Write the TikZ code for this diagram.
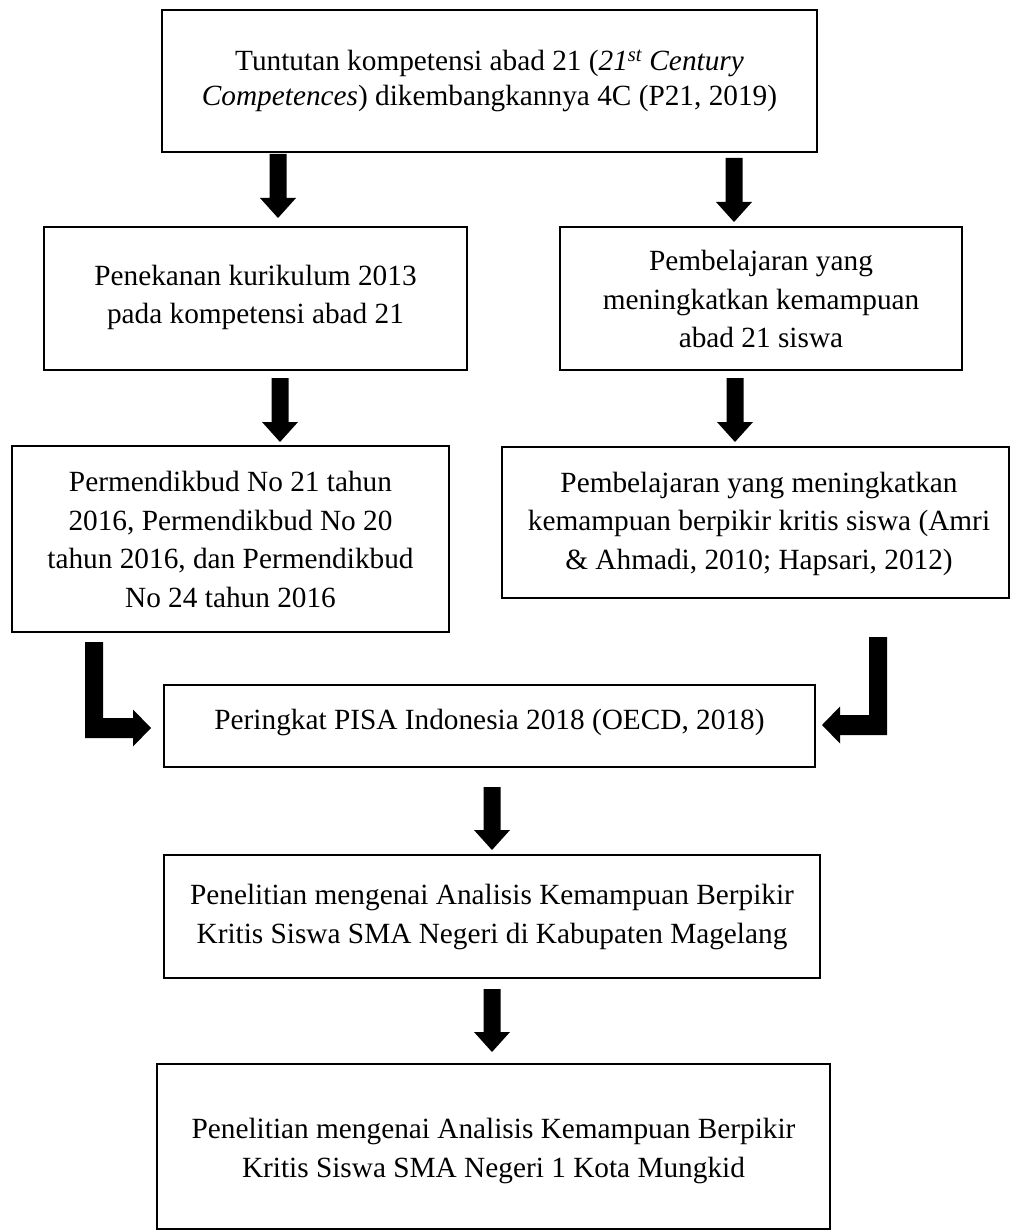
\documentclass[tikz,border=0pt]{standalone}
\usepackage{fontspec}
\setmainfont{Liberation Serif}
\usetikzlibrary{calc}
% block arrow pointing down: #1 = top of shaft, #2 = tip
\newcommand\blkdown[2]{\fill ($(#1)+(-8.5pt,0pt)$) -- ($(#1)+(8.5pt,0pt)$) -- ($(#2)+(8.5pt,20pt)$) -- ($(#2)+(18pt,20pt)$) -- (#2) -- ($(#2)+(-18pt,20pt)$) -- ($(#2)+(-8.5pt,20pt)$) -- cycle;}
\begin{document}
\begin{tikzpicture}[x=1pt,y=-1pt,
  boxst/.style={draw, line width=2pt, rectangle, inner sep=0pt, outer sep=0pt},
  txt/.style={align=center, inner sep=0pt, font=\fontsize{29.3}{38.5}\selectfont}]
\useasboundingbox[fill=white] (0,0) rectangle (1011,1230);

% boxes
\node[boxst, minimum width=655pt, minimum height=142pt] (top) at (489.5,81) {};
\node[boxst, minimum width=423pt, minimum height=143pt] (b2L) at (255.5,298.5) {};
\node[boxst, minimum width=402pt, minimum height=143pt] (b2R) at (761,298.5) {};
\node[boxst, minimum width=437pt, minimum height=186pt] (b3L) at (230.5,539) {};
\node[boxst, minimum width=507pt, minimum height=151pt] (b3R) at (755.5,522.5) {};
\node[boxst, minimum width=651pt, minimum height=82pt] (pisa) at (489.5,726) {};
\node[boxst, minimum width=656pt, minimum height=123pt] (b7) at (492,916.5) {};
\node[boxst, minimum width=673pt, minimum height=165pt] (b8) at (493.5,1146.5) {};

% texts
\node[txt, font=\fontsize{29.3}{35}\selectfont] (ttop) at (489.5,80.5)
  {Tuntutan kompetensi abad 21 (\textit{21\textsuperscript{st} Century}\\\textit{Competences}) dikembangkannya 4C (P21, 2019)};
\node[txt] (t2L) at (255.5,297.5) {Penekanan kurikulum 2013\\pada kompetensi abad 21};
\node[txt] (t2R) at (761,299) {Pembelajaran yang\\meningkatkan kemampuan\\abad 21 siswa};
\node[txt] (t3L) at (230.5,539.5) {Permendikbud No 21 tahun\\2016, Permendikbud No 20\\tahun 2016, dan Permendikbud\\No 24 tahun 2016};
\node[txt] (t3R) at (759,523.5) {Pembelajaran yang meningkatkan\\kemampuan berpikir kritis siswa (Amri\\\& Ahmadi, 2010; Hapsari, 2012)};
\node[txt] (tpisa) at (489.5,722) {Peringkat PISA Indonesia 2018 (OECD, 2018)};
\node[txt] (t7) at (492,917) {Penelitian mengenai Analisis Kemampuan Berpikir\\Kritis Siswa SMA Negeri di Kabupaten Magelang};
\node[txt] (t8) at (493.5,1151) {Penelitian mengenai Analisis Kemampuan Berpikir\\Kritis Siswa SMA Negeri 1 Kota Mungkid};

% arrow end points tied to the boxes
\coordinate (a1Ls) at ($(top.south)+(-211.5pt,-2pt)$);
\coordinate (a1Le) at ($(b2L.north)+(22.5pt,9pt)$);
\coordinate (a1Rs) at ($(top.south)+(244.5pt,-6pt)$);
\coordinate (a1Re) at ($(b2R.north)+(-27pt,5pt)$);
\coordinate (a2Ls) at ($(b2L.south)+(24.5pt,-8pt)$);
\coordinate (a2Le) at ($(b3L.north)+(49.5pt,4pt)$);
\coordinate (a2Rs) at ($(b2R.south)+(-26pt,-8pt)$);
\coordinate (a2Re) at ($(b3R.north)+(-20.5pt,5pt)$);
\coordinate (a3s) at ($(pisa.south)+(2.5pt,-20pt)$);
\coordinate (a3e) at ($(b7.north)+(0pt,5pt)$);
\coordinate (a4s) at ($(b7.south)+(0pt,-11pt)$);
\coordinate (a4e) at ($(b8.north)+(-1.5pt,12pt)$);
\coordinate (bLs) at ($(b3L.south)+(-136.5pt,-10pt)$);
\coordinate (bLe) at ($(pisa.west)+(-13pt,-2pt)$);
\coordinate (bRs) at ($(b3R.south)+(122.5pt,-39pt)$);
\coordinate (bRe) at ($(pisa.east)+(7pt,1pt)$);

% straight block arrows
\blkdown{a1Ls}{a1Le}
\blkdown{a1Rs}{a1Re}
\blkdown{a2Ls}{a2Le}
\blkdown{a2Rs}{a2Re}
\blkdown{a3s}{a3e}
\blkdown{a4s}{a4e}

% bent block arrows into the PISA box
\fill ($(bLs)+(-9pt,0pt)$) -- ($(bLs)+(9pt,0pt)$) -- ($(bLs |- bLe)+(9pt,10pt)$)
  -- ($(bLe)+(-18pt,10pt)$) -- ($(bLe)+(-18pt,18.5pt)$) -- (bLe)
  -- ($(bLe)+(-18pt,-18.5pt)$) -- ($(bLe)+(-18pt,-10pt)$) -- ($(bLs |- bLe)+(-9pt,-10pt)$) -- cycle;
\fill ($(bRs)+(-9pt,0pt)$) -- ($(bRs)+(9pt,0pt)$) -- ($(bRs |- bRe)+(9pt,-10pt)$)
  -- ($(bRe)+(18pt,-10pt)$) -- ($(bRe)+(18pt,-18.5pt)$) -- (bRe)
  -- ($(bRe)+(18pt,18.5pt)$) -- ($(bRe)+(18pt,10pt)$) -- ($(bRs |- bRe)+(-9pt,10pt)$) -- cycle;
\end{tikzpicture}
\end{document}
